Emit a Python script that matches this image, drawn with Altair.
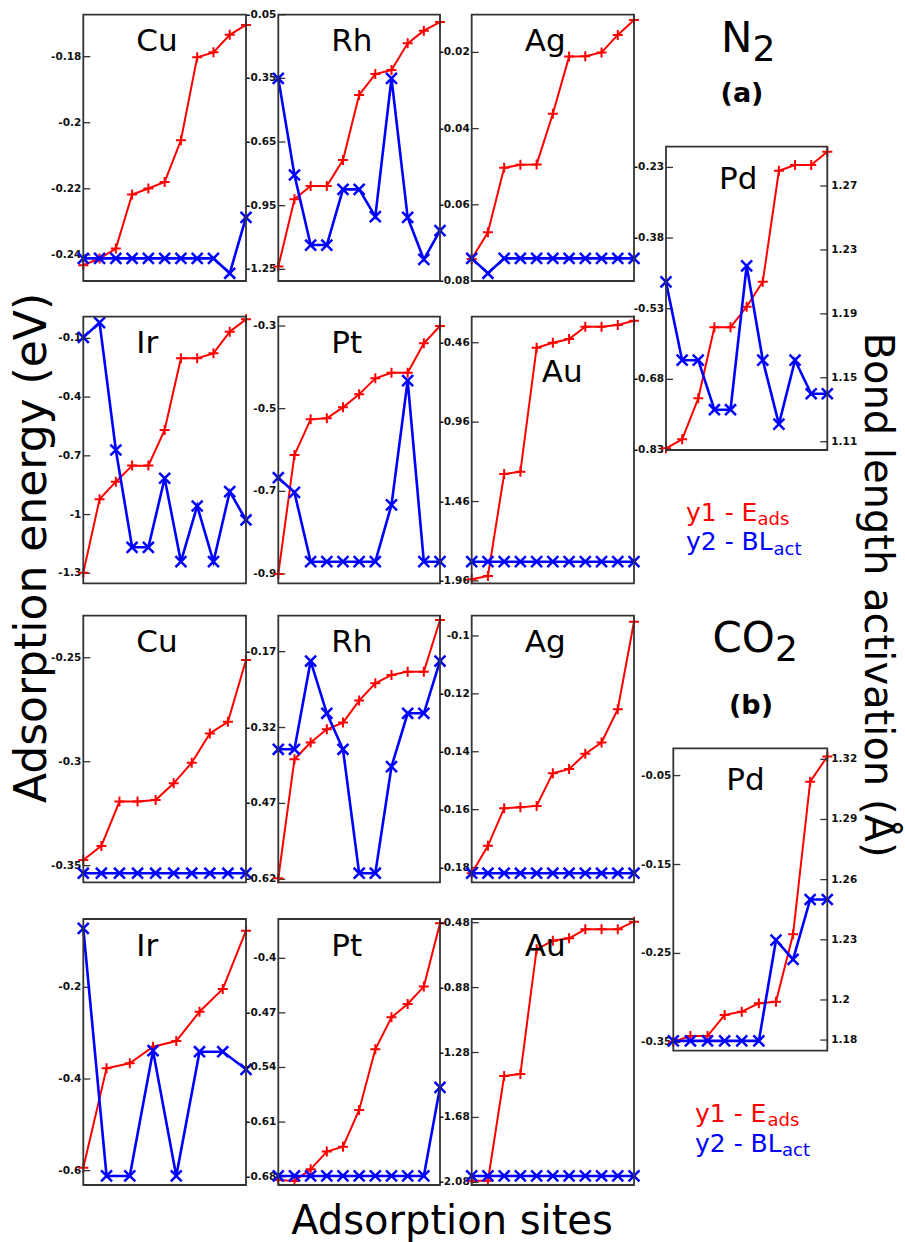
import altair as alt
import pandas as pd

W, H = 905, 1242
FONT = "DejaVu Sans"
RED = "#ff0000"
BLUE = "#0000ff"
FRAME = "#333333"
PLUS = "M-1,0L1,0M0,-1L0,1"
CROSS = "M-1,-1L1,1M-1,1L1,-1"

# ---------------- data ----------------
# Adsorption energies (eV), one value per adsorption site
cu_n2_eads = [-0.2431, -0.2411, -0.2381, -0.2217, -0.2199, -0.2179, -0.2053, -0.1802, -0.1787, -0.1734, -0.1704]
rh_n2_eads = [-1.237, -0.920, -0.857, -0.857, -0.735, -0.4285, -0.3296, -0.3107, -0.185, -0.1254, -0.0846]
ag_n2_eads = [-0.0742, -0.0672, -0.0503, -0.0495, -0.0494, -0.0361, -0.0211, -0.0210, -0.0200, -0.0154, -0.0115]
ir_n2_eads = [-1.2966, -0.922, -0.832, -0.750, -0.750, -0.568, -0.202, -0.202, -0.1766, -0.066, -0.003]
pt_n2_eads = [-0.9, -0.612, -0.5258, -0.5234, -0.4968, -0.4653, -0.4266, -0.4129, -0.4129, -0.3419, -0.3]
au_n2_eads = [-1.9496, -1.9286, -1.2866, -1.2719, -0.4915, -0.46, -0.4369, -0.3593, -0.3593, -0.3488, -0.3215]
pd_n2_eads = [-0.8265, -0.8073, -0.7203, -0.5696, -0.5696, -0.5257, -0.4727, -0.2371, -0.2250, -0.2250, -0.1967]

cu_co2_eads = [-0.3473, -0.3405, -0.3192, -0.3192, -0.3184, -0.3104, -0.3005, -0.2864, -0.2808, -0.2511]
rh_co2_eads = [-0.618, -0.3828, -0.3498, -0.3235, -0.3103, -0.2668, -0.2326, -0.2161, -0.2095, -0.2095, -0.1074]
ag_co2_eads = [-0.182, -0.1725, -0.1595, -0.1592, -0.1587, -0.1474, -0.146, -0.1407, -0.1368, -0.1253, -0.0951]
ir_co2_eads = [-0.5935, -0.3767, -0.3658, -0.3295, -0.3171, -0.2531, -0.2036, -0.0764]
pt_co2_eads = [-0.6843, -0.6856, -0.6706, -0.6479, -0.6415, -0.5945, -0.5167, -0.4757, -0.4586, -0.4363, -0.3551]
au_co2_eads = [-2.0697, -2.0697, -1.4248, -1.4125, -0.6443, -0.5909, -0.5765, -0.5211, -0.5211, -0.5211, -0.4738]
pd_co2_eads = [-0.3492, -0.3429, -0.3429, -0.3192, -0.3155, -0.3061, -0.3043, -0.2285, -0.0568, -0.0286]

# Bond-length activation: Pd panels in Angstrom (right axis shown);
# other panels have no y2 axis, so values are relative heights (0-1) in the panel
cu_n2_bl = [0.085, 0.085, 0.085, 0.085, 0.085, 0.085, 0.085, 0.085, 0.085, 0.029, 0.239]
rh_n2_bl = [0.761, 0.398, 0.135, 0.135, 0.344, 0.344, 0.242, 0.761, 0.239, 0.081, 0.189]
ag_n2_bl = [0.085, 0.029, 0.085, 0.085, 0.085, 0.085, 0.085, 0.085, 0.085, 0.085, 0.085]
ir_n2_bl = [0.9225, 0.9775, 0.5, 0.135, 0.135, 0.394, 0.081, 0.29, 0.081, 0.344, 0.2375]
pt_n2_bl = [0.396, 0.341, 0.081, 0.081, 0.081, 0.081, 0.081, 0.294, 0.76, 0.081, 0.081]
au_n2_bl = [0.081, 0.081, 0.081, 0.081, 0.081, 0.081, 0.081, 0.081, 0.081, 0.081, 0.081]
pd_n2_bl = [1.210, 1.161, 1.161, 1.130, 1.130, 1.220, 1.161, 1.121, 1.161, 1.140, 1.140]

cu_co2_bl = [0.034, 0.034, 0.034, 0.034, 0.034, 0.034, 0.034, 0.034, 0.034, 0.034]
rh_co2_bl = [0.499, 0.499, 0.83, 0.634, 0.499, 0.034, 0.034, 0.434, 0.634, 0.634, 0.83]
ag_co2_bl = [0.034, 0.034, 0.034, 0.034, 0.034, 0.034, 0.034, 0.034, 0.034, 0.034, 0.034]
ir_co2_bl = [0.965, 0.034, 0.034, 0.505, 0.034, 0.501, 0.501, 0.435]
pt_co2_bl = [0.034, 0.034, 0.034, 0.034, 0.034, 0.034, 0.034, 0.034, 0.034, 0.034, 0.367]
au_co2_bl = [0.034, 0.034, 0.034, 0.034, 0.034, 0.034, 0.034, 0.034, 0.034, 0.034, 0.034]
pd_co2_bl = [1.1796, 1.1796, 1.1796, 1.1796, 1.1796, 1.1796, 1.2298, 1.2202, 1.2501, 1.2501]

# y1 axis tick labels (and y2 for Pd)
cu_n2_ticks = [-0.18, -0.2, -0.22, -0.24]
rh_n2_ticks = [-0.05, -0.35, -0.65, -0.95, -1.25]
ag_n2_ticks = [-0.02, -0.04, -0.06, -0.08]
ir_n2_ticks = [-0.1, -0.4, -0.7, -1, -1.3]
pt_n2_ticks = [-0.3, -0.5, -0.7, -0.9]
au_n2_ticks = [-0.46, -0.96, -1.46, -1.96]
pd_n2_ticks = [-0.23, -0.38, -0.53, -0.68, -0.83]
pd_n2_bl_ticks = [1.27, 1.23, 1.19, 1.15, 1.11]

cu_co2_ticks = [-0.25, -0.3, -0.35]
rh_co2_ticks = [-0.17, -0.32, -0.47, -0.62]
ag_co2_ticks = [-0.1, -0.12, -0.14, -0.16, -0.18]
ir_co2_ticks = [-0.2, -0.4, -0.6]
pt_co2_ticks = [-0.4, -0.47, -0.54, -0.61, -0.68]
au_co2_ticks = [-0.48, -0.88, -1.28, -1.68, -2.08]
pd_co2_ticks = [-0.05, -0.15, -0.25, -0.35]
pd_co2_bl_ticks = [1.32, 1.29, 1.26, 1.23, 1.2, 1.18]

# ---------------- layout (panel boxes in pixels) ----------------
C1, C2, C3 = (83.3, 246.0), (278.3, 440.0), (471.7, 634.0)
R1, R2, R3, R4 = (14.7, 281.0), (316.7, 583.3), (615.7, 882.3), (919.0, 1185.0)

panels = [
    dict(name="Cu", eads=cu_n2_eads, bl=cu_n2_bl, xb=C1, yb=R1, edom=(-0.2479, -0.1673), ticks=cu_n2_ticks),
    dict(name="Rh", eads=rh_n2_eads, bl=rh_n2_bl, xb=C2, yb=R1, edom=(-1.305, -0.05), ticks=rh_n2_ticks),
    dict(name="Ag", eads=ag_n2_eads, bl=ag_n2_bl, xb=C3, yb=R1, edom=(-0.08, -0.0101), ticks=ag_n2_ticks),
    dict(name="Ir", eads=ir_n2_eads, bl=ir_n2_bl, xb=C1, yb=R2, edom=(-1.351, 0.0106), ticks=ir_n2_ticks),
    dict(name="Pt", eads=pt_n2_eads, bl=pt_n2_bl, xb=C2, yb=R2, edom=(-0.9226, -0.2774), ticks=pt_n2_ticks),
    dict(name="Au", eads=au_n2_eads, bl=au_n2_bl, xb=C3, yb=R2, edom=(-1.975, -0.296), ticks=au_n2_ticks,
         label=(70, 65)),
    dict(name="Pd", eads=pd_n2_eads, bl=pd_n2_bl, xb=(666.0, 827.3), yb=(146.7, 450.0), edom=(-0.83, -0.186),
         ticks=pd_n2_ticks, bdom=(1.1048, 1.2946), bticks=pd_n2_bl_ticks),
    dict(name="Cu", eads=cu_co2_eads, bl=cu_co2_bl, xb=C1, yb=R3, edom=(-0.358, -0.2298), ticks=cu_co2_ticks),
    dict(name="Rh", eads=rh_co2_eads, bl=rh_co2_bl, xb=C2, yb=R3, edom=(-0.626, -0.0989), ticks=rh_co2_ticks),
    dict(name="Ag", eads=ag_co2_eads, bl=ag_co2_bl, xb=C3, yb=R3, edom=(-0.1851, -0.093), ticks=ag_co2_ticks),
    dict(name="Ir", eads=ir_co2_eads, bl=ir_co2_bl, xb=C1, yb=R4, edom=(-0.6313, -0.0509), ticks=ir_co2_ticks),
    dict(name="Pt", eads=pt_co2_eads, bl=pt_co2_bl, xb=C2, yb=R4, edom=(-0.6907, -0.3496), ticks=pt_co2_ticks),
    dict(name="Au", eads=au_co2_eads, bl=au_co2_bl, xb=C3, yb=R4, edom=(-2.0964, -0.4574), ticks=au_co2_ticks),
    dict(name="Pd", eads=pd_co2_eads, bl=pd_co2_bl, xb=(673.3, 827.3), yb=(748.3, 1050.7), edom=(-0.3594, -0.0193),
         ticks=pd_co2_ticks, bdom=(1.1747, 1.3255), bticks=pd_co2_bl_ticks),
]

LABEL_SIZE = 10.5


def tick_layers(values, site, scale_x, scale_y, inward, label_side):
    """Inward tick marks plus their labels, positioned through the panel's scales."""
    df = pd.DataFrame({"v": values, "s": [site] * len(values), "lab": [str(v) for v in values]})
    enc = dict(x=alt.X("s:Q", scale=scale_x, axis=None), y=alt.Y("v:Q", scale=scale_y, axis=None))
    ticks = alt.Chart(df).mark_tick(orient="horizontal", size=7, thickness=1.3, color=FRAME,
                                    opacity=1, xOffset=inward).encode(**enc)
    if label_side == "left":
        labels = alt.Chart(df).mark_text(align="right", baseline="middle", dx=-2, font=FONT,
                                         fontWeight="bold", fontSize=LABEL_SIZE, color="#111111").encode(
            text="lab:N", **enc)
    else:
        labels = alt.Chart(df).mark_text(align="left", baseline="middle", dx=4, font=FONT,
                                         fontWeight="bold", fontSize=LABEL_SIZE, color="#111111").encode(
            text="lab:N", **enc)
    return [ticks, labels]


def make_panel(p):
    n = len(p["eads"])
    x0, x1 = p["xb"]
    y0, y1 = p["yb"]
    bdom = p.get("bdom", (0.0, 1.0))
    df = pd.DataFrame({"site": list(range(n)), "eads": p["eads"], "bl": p["bl"]})
    xs = alt.Scale(domain=[0, n - 1], range=[x0, x1], nice=False, zero=False)
    rs = alt.Scale(domain=list(p["edom"]), range=[y1, y0], nice=False, zero=False)
    bs = alt.Scale(domain=list(bdom), range=[y1, y0], nice=False, zero=False)
    X = alt.X("site:Q", scale=xs, axis=None)
    base = alt.Chart(df)

    red_line = base.mark_line(color=RED, strokeWidth=2).encode(
        X, alt.Y("eads:Q", scale=rs, axis=None))
    red_pts = base.mark_point(shape=PLUS, size=100, filled=False, color=RED, strokeWidth=2,
                              opacity=1).encode(X, alt.Y("eads:Q", scale=rs, axis=None))
    red = alt.layer(*tick_layers(p["ticks"], 0, xs, rs, 3.5, "left"), red_line, red_pts)

    blue_line = base.mark_line(color=BLUE, strokeWidth=2.6).encode(
        X, alt.Y("bl:Q", scale=bs, axis=None))
    blue_pts = base.mark_point(shape=CROSS, size=120, filled=False, color=BLUE, strokeWidth=2.5,
                               opacity=1).encode(X, alt.Y("bl:Q", scale=bs, axis=None))
    blayers = [blue_line, blue_pts]
    if "bticks" in p:
        blayers += tick_layers(p["bticks"], n - 1, xs, bs, -3.5, "right")
    fdf = pd.DataFrame({"xa": [0], "xb": [n - 1], "ya": [bdom[0]], "yb": [bdom[1]]})
    frame = alt.Chart(fdf).mark_rect(fill="transparent", stroke=FRAME, strokeWidth=1.8).encode(
        x=alt.X("xa:Q", scale=xs, axis=None), x2="xb:Q",
        y=alt.Y("ya:Q", scale=bs, axis=None), y2="yb:Q")
    blayers.append(frame)
    blue = alt.layer(*blayers)
    return alt.layer(red, blue).resolve_scale(y="independent")


def txt(s, x, y, size, color="black", weight="normal", align="left", angle=0):
    return alt.Chart(pd.DataFrame({"t": [s]})).mark_text(
        font=FONT, fontSize=size, color=color, fontWeight=weight, align=align,
        baseline="alphabetic", angle=angle).encode(x=alt.value(x), y=alt.value(y), text="t:N")


layers = [make_panel(p) for p in panels]

texts = []
for p in panels:
    x0, x1 = p["xb"]
    y0, y1 = p["yb"]
    dx, dy = p.get("label", (53, 0.138 * (y1 - y0)))
    texts.append(txt(p["name"], x0 + dx, y0 + dy, 31))

texts += [
    txt("Adsorption energy (eV)", 46, 548, 44, align="center", angle=270),
    txt("Bond length activation (Å)", 865, 595, 40, align="center", angle=90),
    txt("Adsorption sites", 452, 1234, 40, align="center"),
    txt("N", 721, 52, 42), txt("2", 752.5, 61, 36),
    txt("(a)", 742, 102, 27, weight="bold", align="center"),
    txt("CO", 712.5, 651.7, 42), txt("2", 775, 660.7, 36),
    txt("(b)", 751, 714, 27, weight="bold", align="center"),
    txt("y1 - E", 686, 521, 25, RED), txt("ads", 757.5, 525, 18, RED),
    txt("y2 - BL", 686, 550, 25, BLUE), txt("act", 773.5, 555, 18, BLUE),
    txt("y1 - E", 695, 1121.7, 25, RED), txt("ads", 767.5, 1126, 18, RED),
    txt("y2 - BL", 695, 1151.7, 25, BLUE), txt("act", 782, 1156, 18, BLUE),
]

chart = alt.layer(*layers, *texts).resolve_scale(x="independent", y="independent").properties(
    width=W, height=H, padding=0, autosize=alt.AutoSizeParams(type="none")
).configure_view(stroke=None)

chart.save("out.html", embed_options={"renderer": "svg", "actions": False})
